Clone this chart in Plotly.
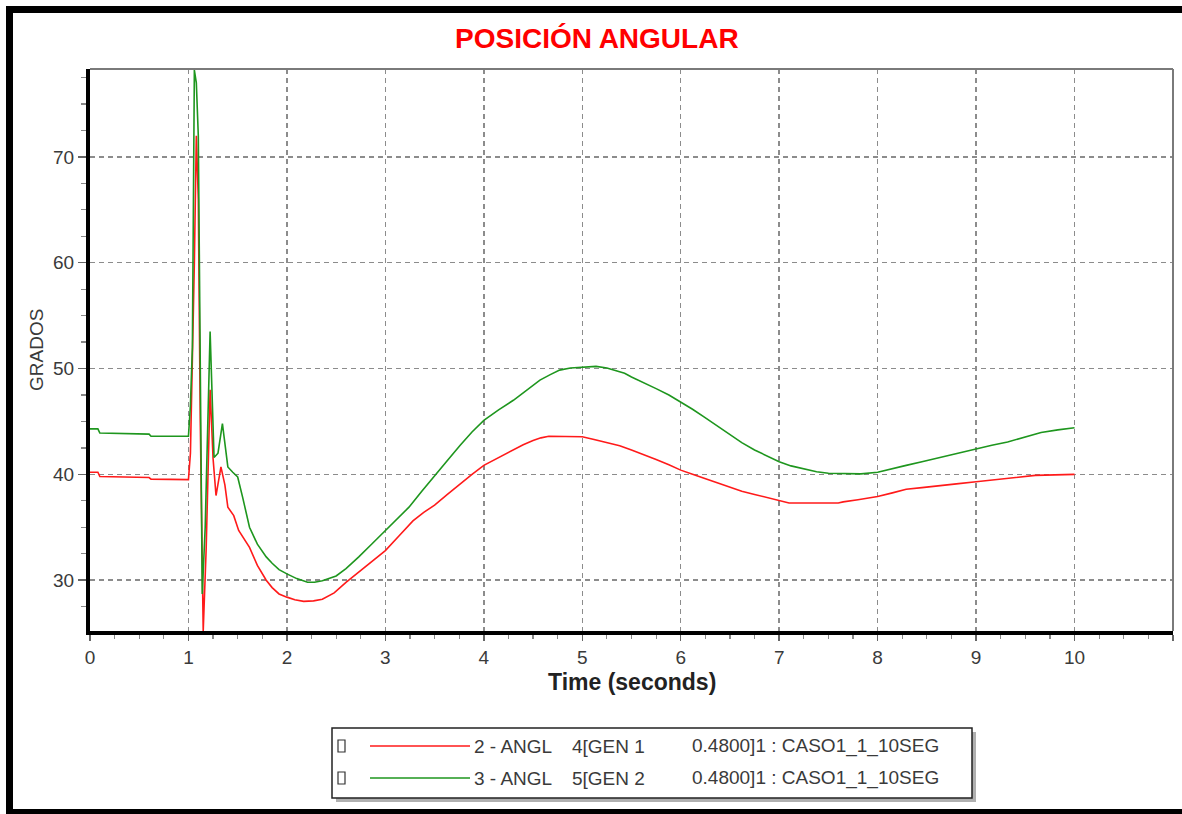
import plotly.graph_objects as go

# ---------------- data ----------------
time_gen1 = [0.0, 0.08, 0.10, 0.60, 0.62, 1.00, 1.02, 1.04, 1.06, 1.08, 1.10, 1.12, 1.15, 1.18,
             1.22, 1.25, 1.28, 1.33, 1.37, 1.40, 1.46, 1.51, 1.62, 1.70, 1.79, 1.85, 1.92, 2.00,
             2.08, 2.17, 2.27, 2.36, 2.48, 2.60, 2.68, 2.77, 2.88, 3.00, 3.14, 3.28, 3.39, 3.50,
             3.63, 3.76, 3.88, 4.00, 4.15, 4.30, 4.40, 4.50, 4.58, 4.66, 5.00, 5.12, 5.25, 5.38,
             5.50, 5.62, 5.75, 5.88, 6.00, 6.12, 6.25, 6.38, 6.50, 6.62, 6.75, 6.88, 7.00, 7.10,
             7.60, 7.65, 7.80, 8.00, 8.15, 8.29, 8.45, 8.63, 8.80, 9.00, 9.15, 9.32, 9.45, 9.60, 10.0]
angle_gen1 = [40.2, 40.2, 39.8, 39.7, 39.55, 39.5, 42.0, 50.0, 60.0, 72.0, 66.0, 45.0, 25.2, 33.0,
              48.0, 41.5, 38.0, 40.7, 39.0, 36.9, 36.1, 34.7, 33.1, 31.4, 30.0, 29.3, 28.7, 28.4,
              28.15, 28.0, 28.05, 28.2, 28.8, 29.8, 30.4, 31.1, 31.9, 32.8, 34.2, 35.6, 36.4, 37.1,
              38.1, 39.1, 40.0, 40.85, 41.6, 42.3, 42.8, 43.2, 43.45, 43.6, 43.55, 43.3, 43.0, 42.7,
              42.3, 41.9, 41.4, 40.9, 40.4, 40.0, 39.6, 39.2, 38.8, 38.4, 38.1, 37.8, 37.5, 37.3,
              37.3, 37.4, 37.6, 37.9, 38.25, 38.6, 38.75, 38.9, 39.1, 39.3, 39.45, 39.6, 39.75, 39.9, 40.0]

time_gen2 = [0.0, 0.08, 0.10, 0.60, 0.62, 1.00, 1.02, 1.04, 1.06, 1.08, 1.10, 1.14, 1.17, 1.22,
             1.26, 1.30, 1.345, 1.40, 1.45, 1.50, 1.55, 1.62, 1.70, 1.79, 1.85, 1.92, 2.00, 2.10,
             2.21, 2.28, 2.36, 2.43, 2.50, 2.60, 2.73, 2.86, 3.00, 3.12, 3.24, 3.37, 3.50, 3.63,
             3.76, 3.88, 4.00, 4.15, 4.30, 4.43, 4.57, 4.67, 4.77, 4.88, 5.00, 5.14, 5.25, 5.35,
             5.43, 5.50, 5.62, 5.75, 5.88, 6.00, 6.12, 6.24, 6.37, 6.50, 6.62, 6.75, 6.88, 7.00,
             7.12, 7.25, 7.38, 7.50, 7.65, 7.83, 8.00, 8.15, 8.29, 8.45, 8.63, 8.80, 9.00, 9.16,
             9.32, 9.50, 9.66, 9.83, 10.0]
angle_gen2 = [44.3, 44.3, 43.9, 43.8, 43.6, 43.6, 46.5, 52.0, 78.2, 77.0, 72.0, 28.7, 35.0, 53.5,
              41.6, 42.0, 44.8, 40.7, 40.2, 39.75, 37.85, 35.0, 33.4, 32.2, 31.6, 31.0, 30.6, 30.15,
              29.8, 29.8, 29.95, 30.15, 30.4, 31.1, 32.2, 33.4, 34.7, 35.8, 36.9, 38.4, 39.9, 41.3,
              42.75, 44.0, 45.1, 46.1, 47.0, 47.95, 48.9, 49.4, 49.85, 50.05, 50.15, 50.2, 50.05, 49.8,
              49.55, 49.2, 48.7, 48.1, 47.5, 46.85, 46.15, 45.4, 44.55, 43.7, 43.0, 42.3, 41.7, 41.2,
              40.8, 40.5, 40.25, 40.1, 40.05, 40.05, 40.2, 40.5, 40.85, 41.2, 41.6, 42.0, 42.4, 42.75,
              43.06, 43.5, 43.95, 44.2, 44.4]

series_names = ["2 - ANGL     4[GEN 1        0.4800]1 : CASO1_1_10SEG",
                "3 - ANGL     5[GEN 2        0.4800]1 : CASO1_1_10SEG"]
legend_col1 = ["2 - ANGL", "3 - ANGL"]
legend_col2 = ["4[GEN 1", "5[GEN 2"]
legend_col3 = ["0.4800]1 : CASO1_1_10SEG", "0.4800]1 : CASO1_1_10SEG"]
series_colors = ["#FF1A1A", "#1E961E"]

chart_title = "POSICIÓN ANGULAR"
x_title = "Time (seconds)"
y_title = "GRADOS"
x_range = [0, 11]
y_range = [25.2, 78.3]
y_ticks = [30, 40, 50, 60, 70]

# ---------------- layout geometry (window pixels) ----------------
W, H = 1182, 814
ML, MR, MT, MB = 90, 9, 69, 183
PW, PH = W - ML - MR, H - MT - MB


def px(x):
    return (x - ML) / PW


def py(y):
    return (H - MB - y) / PH


FONT = "Liberation Sans, Arial, sans-serif"
TXT = "#3a3a3a"

fig = go.Figure()
fig.add_trace(go.Scatter(x=time_gen1, y=angle_gen1, mode="lines", name=series_names[0],
                         line=dict(color=series_colors[0], width=1.6)))
fig.add_trace(go.Scatter(x=time_gen2, y=angle_gen2, mode="lines", name=series_names[1],
                         line=dict(color=series_colors[1], width=1.6)))

shapes = []
# outer thick frame (top, left, bottom)
shapes.append(dict(type="rect", xref="paper", yref="paper", x0=px(6), x1=px(1182), y0=py(13), y1=py(6),
                   fillcolor="black", line=dict(width=0), layer="above"))
shapes.append(dict(type="rect", xref="paper", yref="paper", x0=px(6), x1=px(13), y0=py(814), y1=py(6),
                   fillcolor="black", line=dict(width=0), layer="above"))
shapes.append(dict(type="rect", xref="paper", yref="paper", x0=px(6), x1=px(1182), y0=py(814), y1=py(809),
                   fillcolor="black", line=dict(width=0), layer="above"))
# top and right border of plot area (thin gray)
shapes.append(dict(type="line", xref="paper", yref="paper", x0=0, x1=1, y0=1, y1=1,
                   line=dict(color="#7a7a7a", width=2), layer="above"))
shapes.append(dict(type="line", xref="paper", yref="paper", x0=1, x1=1, y0=0, y1=1,
                   line=dict(color="#7a7a7a", width=2), layer="above"))

# legend box with shadow
LX0, LX1, LY0, LY1 = 332, 972, 728, 798
shapes.append(dict(type="rect", xref="paper", yref="paper", x0=px(LX0 + 4), x1=px(LX1 + 4),
                   y0=py(LY1 + 4), y1=py(LY0 + 4), fillcolor="#b0b0b0", line=dict(width=0)))
shapes.append(dict(type="rect", xref="paper", yref="paper", x0=px(LX0), x1=px(LX1),
                   y0=py(LY1), y1=py(LY0), fillcolor="white", line=dict(color="#222", width=1.5)))
row_y = [746, 778]
annotations = []
for i in range(2):
    ry = row_y[i]
    shapes.append(dict(type="rect", xref="paper", yref="paper", x0=px(338), x1=px(345),
                       y0=py(ry + 6), y1=py(ry - 6), fillcolor="white", line=dict(color="#333", width=1.2)))
    shapes.append(dict(type="line", xref="paper", yref="paper", x0=px(370), x1=px(470),
                       y0=py(ry), y1=py(ry), line=dict(color=series_colors[i], width=1.6)))
    for txt, xs in ((legend_col1[i], 472), (legend_col2[i], 570), (legend_col3[i], 690)):
        annotations.append(dict(text=txt, xref="paper", yref="paper", x=px(xs), y=py(ry),
                                xanchor="left", yanchor="middle", showarrow=False,
                                font=dict(family=FONT, size=19, color=TXT)))

# titles
annotations.append(dict(text="<b>" + chart_title + "</b>", xref="paper", yref="paper",
                        x=px(597), y=py(38), xanchor="center", yanchor="middle", showarrow=False,
                        font=dict(family=FONT, size=28, color="#FF0000")))
annotations.append(dict(text="<b>" + x_title + "</b>", xref="paper", yref="paper",
                        x=px(632), y=py(682), xanchor="center", yanchor="middle", showarrow=False,
                        font=dict(family=FONT, size=23, color="#222")))
annotations.append(dict(text=y_title, xref="paper", yref="paper", textangle=-90,
                        x=px(36), y=py(350), xanchor="center", yanchor="middle", showarrow=False,
                        font=dict(family=FONT, size=19, color=TXT)))

fig.update_layout(
    width=W, height=H,
    margin=dict(l=ML, r=MR, t=MT, b=MB, pad=0),
    paper_bgcolor="white", plot_bgcolor="white",
    showlegend=False,
    shapes=shapes, annotations=annotations,
    xaxis=dict(range=x_range, dtick=1, tick0=0, showgrid=True, gridcolor="#8c8c8c", gridwidth=1.5,
               griddash="5px,4px", zeroline=False, showline=True, linecolor="black", linewidth=4,
               ticks="outside", ticklen=6, tickwidth=1.5, tickcolor="#666",
               ticklabelstandoff=0,
               minor=dict(dtick=0.25, ticks="outside", ticklen=4, tickcolor="#888", tickwidth=1.2),
               tickfont=dict(family=FONT, size=19, color=TXT), fixedrange=True),
    yaxis=dict(range=y_range, tickvals=y_ticks, showgrid=True, gridcolor="#8c8c8c", gridwidth=1.5,
               griddash="5px,4px", zeroline=False, showline=True, linecolor="black", linewidth=4,
               ticks="outside", ticklen=8, tickwidth=1.5, tickcolor="#666",
               minor=dict(tick0=25, dtick=2.5, ticks="outside", ticklen=5, tickcolor="#888", tickwidth=1.2),
               tickfont=dict(family=FONT, size=19, color=TXT), fixedrange=True),
)

fig.write_html("out.html", config={"displayModeBar": False, "staticPlot": True},
               post_script="document.body.style.margin='0';document.body.style.overflow='hidden';")
